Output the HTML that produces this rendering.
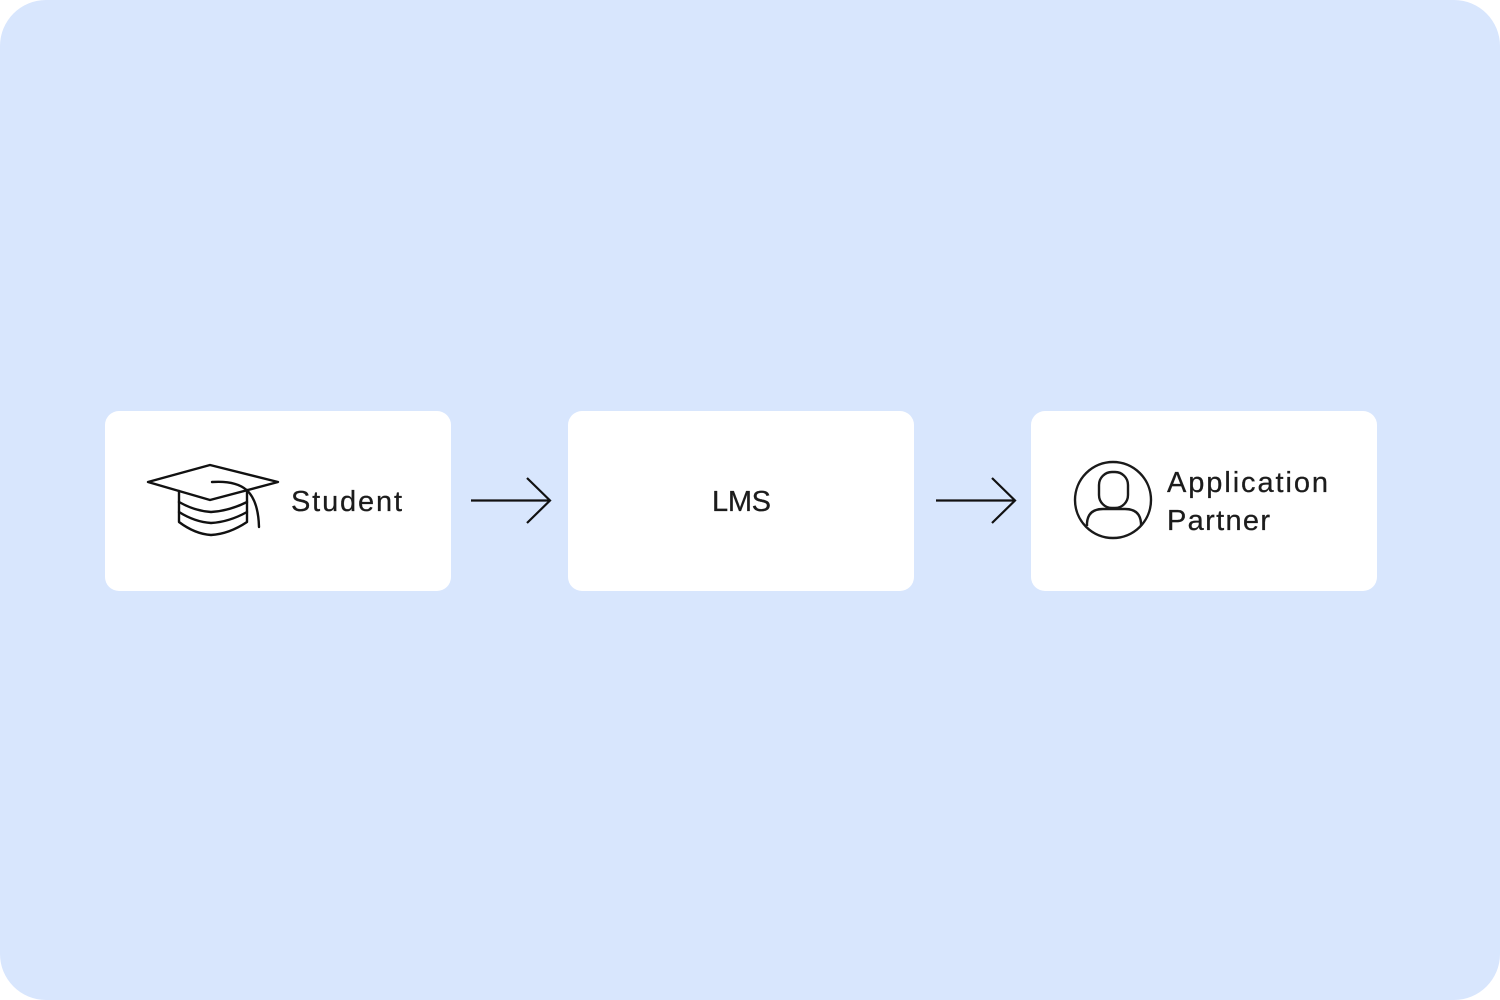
<!DOCTYPE html>
<html>
<head>
<meta charset="utf-8">
<style>
  html, body { margin: 0; padding: 0; background: #ffffff; }
  body { width: 1500px; height: 1000px; overflow: hidden; }
  svg { display: block; }
  text { font-family: "Liberation Sans", Arial, sans-serif; font-size: 29px; fill: #1c1c1c; stroke: #1c1c1c; stroke-width: 0.25; }
</style>
</head>
<body>
<svg width="1500" height="1000" viewBox="0 0 1500 1000" xmlns="http://www.w3.org/2000/svg">
  <rect x="0" y="0" width="1500" height="1000" rx="46" ry="46" fill="#d8e6fd"/>

  <!-- Boxes -->
  <rect x="105" y="411" width="346" height="180" rx="14" ry="14" fill="#ffffff"/>
  <rect x="568" y="411" width="346" height="180" rx="14" ry="14" fill="#ffffff"/>
  <rect x="1031" y="411" width="346" height="180" rx="14" ry="14" fill="#ffffff"/>

  <!-- Arrows -->
  <g stroke="#111111" stroke-width="2.2" fill="none" stroke-linecap="butt" stroke-linejoin="miter">
    <line x1="471" y1="500.5" x2="550" y2="500.5"/>
    <polyline points="527,478 550,500.5 527,523"/>
    <line x1="936" y1="500.5" x2="1015" y2="500.5"/>
    <polyline points="992,478 1015,500.5 992,523"/>
  </g>

  <!-- Graduation cap icon -->
  <g stroke="#111111" stroke-width="2.4" fill="none" stroke-linejoin="round" stroke-linecap="round">
    <polygon points="148,482 210,465 278,482 210,500"/>
    <path d="M179,491 L179,522 Q195,534 211,535 Q229,534 247,522 L247,490"/>
    <path d="M179,502 Q195,511 211,512 Q229,511 247,502"/>
    <path d="M179,512 Q195,522 211,523 Q229,522 247,512"/>
    <path d="M212,482 C242,480 258,490 259,527"/>
  </g>

  <!-- Person icon -->
  <g stroke="#1a1a1a" stroke-width="2.4" fill="none">
    <circle cx="1113" cy="500" r="38"/>
    <rect x="1099" y="472" width="29" height="36" rx="13" ry="13"/>
    <path d="M1087,526 L1087,523 Q1088,509 1103,509 L1125,509 Q1140,509 1141,523 L1141,526"/>
  </g>

  <!-- Labels -->
  <text x="291" y="511" textLength="111" lengthAdjust="spacing">Student</text>
  <text x="712" y="511" textLength="59" lengthAdjust="spacing">LMS</text>
  <text x="1167" y="492" textLength="161" lengthAdjust="spacing">Application</text>
  <text x="1167" y="530" textLength="103" lengthAdjust="spacing">Partner</text>
</svg>
</body>
</html>
